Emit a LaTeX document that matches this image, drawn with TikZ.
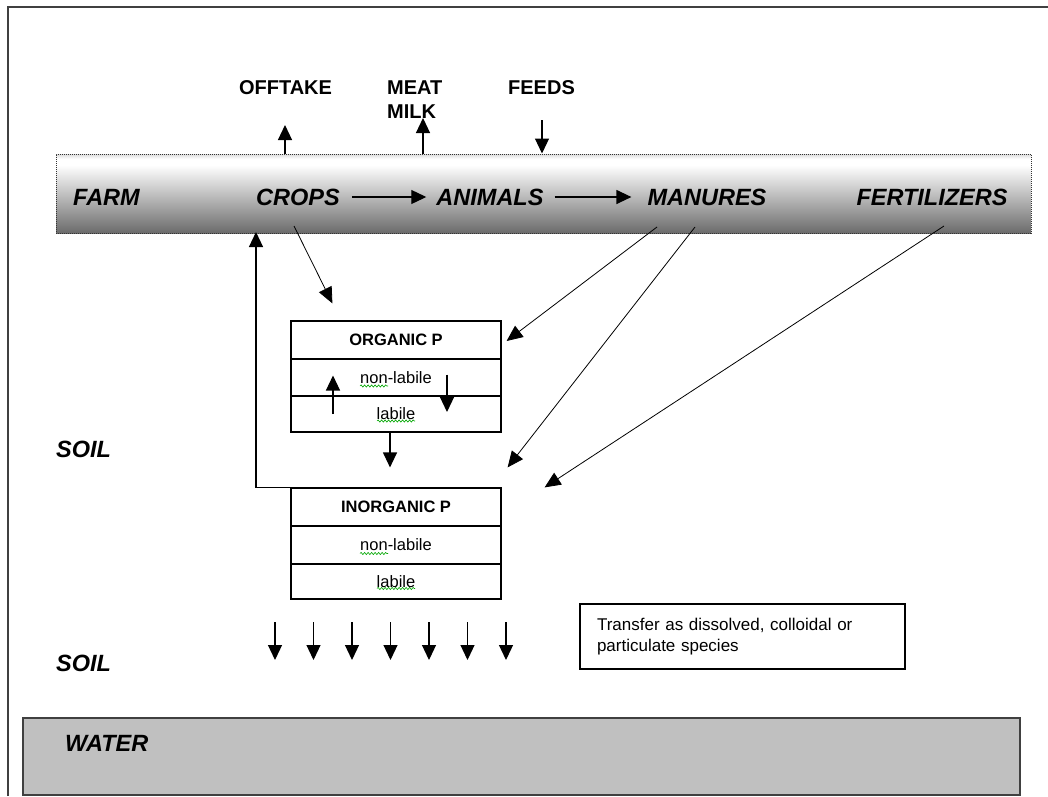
\documentclass[tikz,border=0pt]{standalone}
\usepackage{fontspec}
\setmainfont{Liberation Sans}
\usetikzlibrary{arrows.meta,decorations.pathmorphing}
\definecolor{bandbot}{gray}{0.42}
\definecolor{bandtop}{gray}{0.86}
\definecolor{waterfill}{gray}{0.753}
\pgfdeclareverticalshading{bandshade}{100bp}{color(0bp)=(bandbot); color(25bp)=(bandbot); color(68bp)=(white); color(72bp)=(white); color(75bp)=(bandtop); color(100bp)=(bandtop)}
\begin{document}
\begin{tikzpicture}[x=1pt,y=-1pt,
  big/.style={font=\fontsize{23.5}{28}\selectfont\bfseries\itshape, inner sep=0pt},
  toplab/.style={font=\fontsize{20}{24}\selectfont\bfseries, inner sep=0pt},
  cell/.style={draw, line width=1.2pt, minimum width=210pt, inner sep=0pt, font=\fontsize{16.5}{20}\selectfont},
  arr/.style={line width=1.2pt, -{Triangle[length=15pt,width=14pt]}},
  diag/.style={line width=0.8pt, -{Triangle[length=16pt,width=14pt]}},
  squig/.style={draw=green!65!black, line width=0.6pt, decorate, decoration={snake, amplitude=1.1pt, segment length=3.5pt}},
]
\useasboundingbox (0,0) rectangle (1048,796);
% frame
\draw[line width=2pt, black!75] (8,796) -- (8,7) -- (1048,7);
% farm band
\node[draw=black!80, dash pattern=on 1pt off 1pt, line width=1pt, shade, shading=bandshade, minimum width=975pt, minimum height=79pt, inner sep=0pt] (band) at (543.5,193.5) {};
\node[big, anchor=west] (farm) at (73,197) {FARM};
\node[big] (crops) at (298,197) {CROPS};
\node[big] (animals) at (490,197) {ANIMALS};
\node[big] (manures) at (707,197) {MANURES};
\node[big] (fert) at (932,197) {FERTILIZERS};
\draw[arr] ([xshift=12pt]crops.east) -- ([xshift=-10pt]animals.west);
\draw[arr] ([xshift=11pt]animals.east) -- ([xshift=-16pt]manures.west);
% top labels
\node[toplab] (offtake) at (285.5,87.5) {OFFTAKE};
\node[toplab, anchor=north west, align=left] (meat) at (387,80.5) {MEAT\\MILK};
\node[toplab] (feeds) at (541.5,87.5) {FEEDS};
\coordinate (offtip) at (285,125);
\coordinate (milktip) at (423,118);
\coordinate (feedsrc) at (542,120);
\draw[arr] (offtip |- band.north) -- (offtip);
\draw[arr] (milktip |- band.north) -- (milktip);
\draw[arr] (feedsrc) -- (feedsrc |- band.north);
% organic P
\node[cell, minimum height=38pt, font=\fontsize{16.5}{20}\selectfont\bfseries] (orgH) at (396,340) {ORGANIC P};
\node[cell, minimum height=37pt] (orgN) at (396,377.5) {non-labile};
\node[cell, minimum height=36pt] (orgL) at (396,414) {labile};
% inorganic P
\node[cell, minimum height=38pt, font=\fontsize{16.5}{20}\selectfont\bfseries] (inoH) at (396,507) {INORGANIC P};
\node[cell, minimum height=38pt] (inoN) at (396,545) {non-labile};
\node[cell, minimum height=35pt] (inoL) at (396,581.5) {labile};
% spell-check squiggles
\draw[squig] ([xshift=-36pt,yshift=-8.5pt]orgN.center) -- ++(28pt,0pt);
\draw[squig] ([xshift=-19pt,yshift=-7pt]orgL.center) -- ++(38pt,0pt);
\draw[squig] ([xshift=-36pt,yshift=-8.5pt]inoN.center) -- ++(28pt,0pt);
\draw[squig] ([xshift=-19pt,yshift=-7pt]inoL.center) -- ++(38pt,0pt);
% arrows inside organic box
\draw[arr] ([xshift=-63pt]orgL.center) -- ([xshift=-63pt,yshift=2pt]orgN.center);
\draw[arr] ([xshift=51pt,yshift=3pt]orgN.center) -- ([xshift=51pt,yshift=2pt]orgL.center);
\draw[arr] ([xshift=-6pt]orgL.south) -- ([xshift=-6pt,yshift=20pt]inoH.north);
% loop back to crops
\coordinate (looptip) at (256,232);
\draw[arr] (inoH.north west) -| (looptip);
% diagonal inputs
\draw[diag] ([xshift=-4pt,yshift=-29pt]crops.center) -- ([xshift=42pt,yshift=17pt]orgH.north west);
\draw[diag] ([xshift=-50pt,yshift=-30pt]manures.center) -- ([xshift=5pt,yshift=-1pt]orgH.east);
\draw[diag] ([xshift=-12pt,yshift=-30pt]manures.center) -- ([xshift=6pt,yshift=20pt]inoH.north east);
\draw[diag] ([xshift=12pt,yshift=-29pt]fert.center) -- ([xshift=43pt]inoH.north east);
% soil labels
\node[big, anchor=west] (soil1) at (56,449) {SOIL};
\node[big, anchor=west] (soil2) at (56,663) {SOIL};
% leaching arrows
\foreach \xx [count=\k] in {275,313.5,352,390.5,429,467.5,506} {
  \coordinate (da\k) at (\xx,622);
  \coordinate (db\k) at (\xx,660);
  \draw[arr] (da\k) -- (db\k);
}
% transfer note
\node[draw, line width=1.1pt, minimum width=325pt, minimum height=65pt, text width=291pt, inner xsep=17pt, align=left, font=\fontsize{17}{21}\selectfont] (transfer) at (742.5,636.5) {Transfer as dissolved, colloidal or\\particulate species};
% water
\node[draw=black!75, line width=1.5pt, fill=waterfill, minimum width=997pt, minimum height=77pt, inner sep=0pt] (water) at (521.5,756.5) {};
\node[big, anchor=west] (waterlab) at (65,743) {WATER};
\end{tikzpicture}
\end{document}
